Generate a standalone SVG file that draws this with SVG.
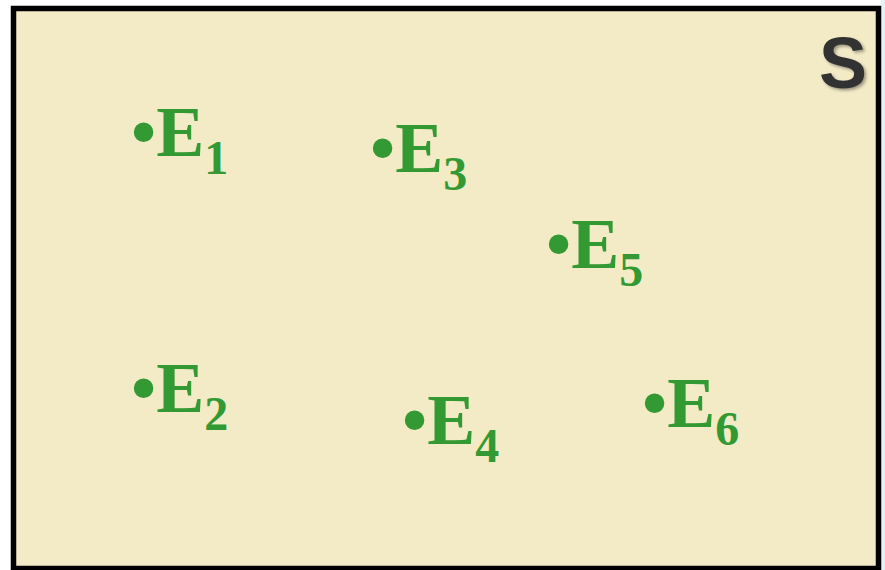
<svg xmlns="http://www.w3.org/2000/svg" width="885" height="570" viewBox="0 0 885 570">
  <defs>
    <filter id="shadow" x="-20%" y="-20%" width="150%" height="150%">
      <feDropShadow dx="2" dy="2" stdDeviation="1.5" flood-color="#000" flood-opacity="0.35"/>
    </filter>
  </defs>
  <style>
    .ev { font-family: "Liberation Serif", "Times New Roman", serif; font-weight: bold; font-size: 72px; fill: #339933; }
    .sub { font-size: 48px; }
    .s { font-family: "Liberation Sans", Arial, sans-serif; font-weight: bold; font-size: 72px; fill: #333333; }
  </style>
  <rect x="0" y="0" width="885" height="570" fill="#ffffff"/>
  <rect x="881" y="0" width="4" height="570" fill="#dff3f8"/>
  <g id="space">
    <rect x="13.5" y="8.5" width="865" height="560" fill="#f3eac6" stroke="#000000" stroke-width="5.5"/>
    <text class="s" x="819" y="88" filter="url(#shadow)">S</text>
  </g>
  <g id="E1"><text class="ev" x="131" y="156">•E<tspan class="sub" dy="18">1</tspan></text></g>
  <g id="E3"><text class="ev" x="370" y="172">•E<tspan class="sub" dy="18">3</tspan></text></g>
  <g id="E5"><text class="ev" x="546" y="268">•E<tspan class="sub" dy="18">5</tspan></text></g>
  <g id="E2"><text class="ev" x="131" y="412">•E<tspan class="sub" dy="18">2</tspan></text></g>
  <g id="E4"><text class="ev" x="402" y="444">•E<tspan class="sub" dy="18">4</tspan></text></g>
  <g id="E6"><text class="ev" x="642" y="427">•E<tspan class="sub" dy="18">6</tspan></text></g>
</svg>
